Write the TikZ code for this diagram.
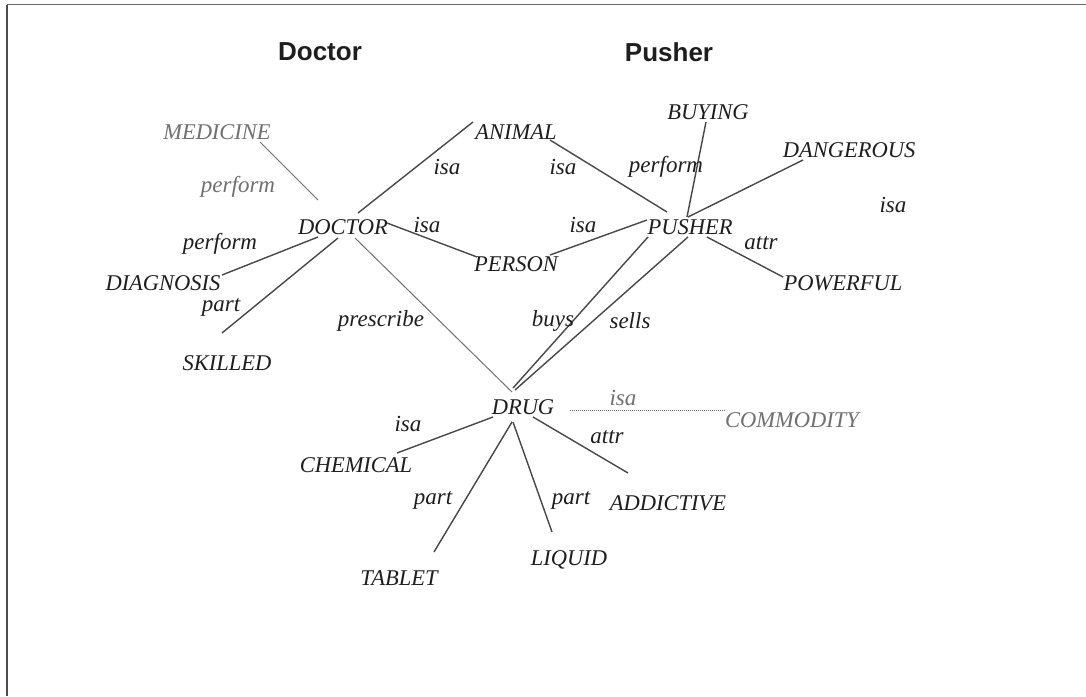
\documentclass[tikz,border=0pt]{standalone}
\usepackage{fontspec}
\setmainfont{Liberation Serif}
\newfontfamily\titlefont{Liberation Sans}
\usetikzlibrary{calc}
\definecolor{ink}{HTML}{1E1E1E}
\definecolor{wire}{HTML}{484848}
\definecolor{faint}{HTML}{707070}
\tikzset{
  concept/.style={inner sep=0pt, text=ink, font=\fontsize{22.5}{27}\selectfont\itshape},
  faintconcept/.style={concept, text=faint},
  rel/.style={inner sep=0pt, text=ink, font=\fontsize{23}{27}\selectfont\itshape},
  faintrel/.style={rel, text=faint},
  heading/.style={inner sep=0pt, text=ink, font=\titlefont\bfseries\fontsize{26}{30}\selectfont},
  link/.style={draw=wire, line width=1.4pt},
  faintlink/.style={draw=faint, line width=1pt},
  dotlink/.style={draw=faint, line width=1pt, densely dotted},
  topline/.style={draw=gray!80!black, line width=1.6pt},
  sideline/.style={draw=black!70, line width=2pt}
}
\begin{document}
\begin{tikzpicture}[x=1pt, y=-1pt]
  \useasboundingbox (0,0) rectangle (1086,696);
  \fill[white] (0,0) rectangle (1086,696);
  % page frame: top rule and left rule
  \coordinate (frameTL) at (6.5,4.5);
  \coordinate (frameTR) at (1086,4.5);
  \coordinate (frameBL) at (6.5,696);
  \draw[topline] (frameTR) -- (frameTL);
  \draw[sideline] (frameTL) -- (frameBL);

  % headings
  \node[heading] (hDoctor) at (320,52) {Doctor};
  \node[heading] (hPusher) at (669,52) {Pusher};

  % concepts
  \node[faintconcept] (MED) at (217,132) {MEDICINE};
  \node[concept] (ANI) at (516,132) {ANIMAL};
  \node[concept] (BUY) at (708,112) {BUYING};
  \node[concept] (DAN) at (849,150) {DANGEROUS};
  \node[concept] (DOC) at (343,227) {DOCTOR};
  \node[concept] (PUS) at (690,227) {PUSHER};
  \node[concept] (PER) at (516,264) {PERSON};
  \node[concept] (POW) at (843,283) {POWERFUL};
  \node[concept] (DIA) at (163,283) {DIAGNOSIS};
  \node[concept] (SKI) at (227,363) {SKILLED};
  \node[concept] (DRU) at (523,407) {DRUG};
  \node[faintconcept] (COM) at (792,420) {COMMODITY};
  \node[concept] (CHE) at (356,465) {CHEMICAL};
  \node[concept] (ADD) at (668,503) {ADDICTIVE};
  \node[concept] (LIQ) at (569,560) {LIQUID};
  \node[concept] (TAB) at (399,578) {TABLET};

  % relations around DOCTOR
  \draw[faintlink] ($(MED)+(43,10)$) -- ($(DOC)+(-25,-27)$);
  \draw[link] ($(DOC)+(15,-14)$) -- ($(ANI)+(-43,-10)$);
  \draw[link] ($(DOC)+(44,-4)$) -- ($(PER)+(-39,-7)$);
  \draw[link] ($(DOC)+(-25,10)$) -- ($(DIA)+(59,-8)$);
  \draw[link] ($(DOC)+(-5,11)$) -- ($(SKI)+(-5,-30)$);
  \draw[faintlink] ($(DOC)+(12,11)$) -- ($(DRU)+(-11,-15)$);

  % relations around PUSHER
  \draw[link] ($(ANI)+(34,8)$) -- ($(PUS)+(-23,-15)$);
  \draw[link] ($(BUY)+(-2,10)$) -- ($(PUS)+(-3,-10)$);
  \draw[link] ($(DAN)+(-46,10)$) -- ($(PUS)+(-2,-10)$);
  \draw[link] ($(PER)+(34,-9)$) -- ($(PUS)+(-43,-7)$);
  \draw[link] ($(PUS)+(17,10)$) -- ($(POW)+(-60,-6)$);
  \draw[link] ($(PUS)+(-42,10)$) -- ($(DRU)+(-10,-19)$);
  \draw[link] ($(PUS)+(-2,10)$) -- ($(DRU)+(-8,-17)$);

  % relations around DRUG
  \draw[dotlink] ($(DRU)+(47,3)$) -- ($(COM)+(-67,-10)$);
  \draw[link] ($(DRU)+(-30,10)$) -- ($(CHE)+(41,-12)$);
  \draw[link] ($(DRU)+(-11,15)$) -- ($(TAB)+(35,-26)$);
  \draw[link] ($(DRU)+(-10,15)$) -- ($(LIQ)+(-17,-28)$);
  \draw[link] ($(DRU)+(10,10)$) -- ($(ADD)+(-40,-30)$);

  % relation labels
  \node[faintrel] (lMedPerf) at (238,187) {perform};
  \node[rel] (lDiaPerf) at (220,244) {perform};
  \node[rel] (lSkiPart) at (221,307) {part};
  \node[rel] (lDocAni) at (447,167) {isa};
  \node[rel] (lDocPer) at (427,225) {isa};
  \node[rel] (lPrescribe) at (381,321) {prescribe};
  \node[rel] (lPusAni) at (563,167) {isa};
  \node[rel] (lPusBuy) at (666,167) {perform};
  \node[rel] (lPusPer) at (583,225) {isa};
  \node[rel] (lPusPow) at (761,243) {attr};
  \node[rel] (lPusDan) at (893,205) {isa};
  \node[rel] (lBuys) at (553,321) {buys};
  \node[rel] (lSells) at (630,321) {sells};
  \node[faintrel] (lDruCom) at (623,398) {isa};
  \node[rel] (lDruAdd) at (607,437) {attr};
  \node[rel] (lDruChe) at (408,424) {isa};
  \node[rel] (lDruTab) at (433,500) {part};
  \node[rel] (lDruLiq) at (571,500) {part};
\end{tikzpicture}
\end{document}
